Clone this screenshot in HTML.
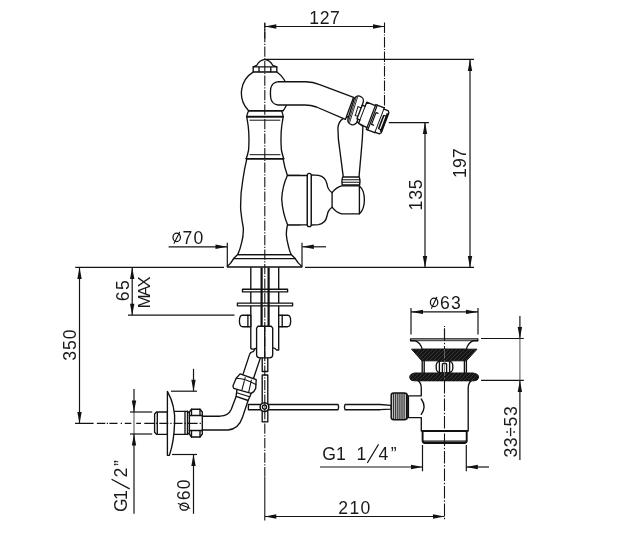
<!DOCTYPE html>
<html>
<head>
<meta charset="utf-8">
<style>
html,body{margin:0;padding:0;background:#fff;}
body{width:617px;height:560px;overflow:hidden;}
svg{display:block;filter:grayscale(1);}
text{font-family:"Liberation Sans",sans-serif;fill:#1a1a1a;}
.o{fill:none;stroke:#111;stroke-width:1.35;stroke-linecap:round;stroke-linejoin:round;}
.w{fill:#fff;stroke:#111;stroke-width:1.35;stroke-linecap:round;stroke-linejoin:round;}
.d{fill:none;stroke:#141414;stroke-width:1.2;}
.c{fill:none;stroke:#141414;stroke-width:1.1;stroke-dasharray:10.4 1.5 1.1 1.5;}
.a{fill:#111;stroke:none;}
.k{fill:#151515;stroke:#111;stroke-width:1;stroke-linejoin:round;}
</style>
</head>
<body>
<svg width="617" height="560" viewBox="0 0 617 560">
<rect x="0" y="0" width="617" height="560" fill="#ffffff"/>

<!-- ===== DIMENSION / EXTENSION LINES ===== -->
<g id="dims">
<!-- main centerline -->
<!-- spout centerline -->
<line class="c" x1="384.5" y1="22.5" x2="384.5" y2="109"/>
<!-- 127 -->
<line class="d" x1="264.8" y1="26.5" x2="384.5" y2="26.5"/>
<polygon class="a" points="264.8,26.5 276.3,24.3 276.3,28.7"/>
<polygon class="a" points="384.5,26.5 373,24.3 373,28.7"/>
<!-- top line -->
<line class="d" x1="264.8" y1="59.4" x2="474" y2="59.4"/>
<!-- 197 -->
<line class="d" x1="470" y1="59.4" x2="470" y2="267.4"/>
<polygon class="a" points="470,59.4 467.8,71 472.2,71"/>
<polygon class="a" points="470,267.4 467.8,255.9 472.2,255.9"/>
<!-- 135 -->
<line class="d" x1="388.8" y1="122.6" x2="428.9" y2="122.6"/>
<line class="d" x1="425" y1="122.6" x2="425" y2="267.4"/>
<polygon class="a" points="425,122.6 422.8,134.1 427.2,134.1"/>
<polygon class="a" points="425,267.4 422.8,255.9 427.2,255.9"/>
<!-- base line -->
<line class="d" x1="75.2" y1="267.4" x2="224" y2="267.4"/>
<line class="d" x1="305" y1="267.4" x2="474" y2="267.4"/>
<!-- ø70 -->
<line class="d" x1="168.6" y1="246.8" x2="227" y2="246.8"/>
<polygon class="a" points="227,246.8 215.5,244.6 215.5,249"/>
<line class="d" x1="227.3" y1="242.8" x2="227.3" y2="266.5"/>
<line class="d" x1="302" y1="242.8" x2="302" y2="266.5"/>
<line class="d" x1="302.3" y1="246.8" x2="326" y2="246.8"/>
<polygon class="a" points="302.3,246.8 313.8,244.6 313.8,249"/>
<!-- 350 -->
<line class="d" x1="79.5" y1="267.4" x2="79.5" y2="423.4"/>
<polygon class="a" points="79.5,267.4 77.3,278.9 81.7,278.9"/>
<polygon class="a" points="79.5,423.4 77.3,411.9 81.7,411.9"/>
<!-- 65 max -->
<line class="d" x1="132.2" y1="267.4" x2="132.2" y2="315.2"/>
<polygon class="a" points="132.2,267.4 130,278.9 134.4,278.9"/>
<polygon class="a" points="132.2,315.2 130,303.7 134.4,303.7"/>
<line class="d" x1="128" y1="315.2" x2="234.5" y2="315.2"/>
<!-- inlet centerline -->
<line class="c" x1="75" y1="423.4" x2="202" y2="423.4" style="stroke-dasharray:18.6 3.3 8.4 1.5 1.2 1.4 8.1 3.2 1.3 2.8 6.5 4.9 4.8 3.3 9.7 2 1.3 2 9 2 1.3 2 9 2 1.3 2 9 2"/>
<!-- G1/2 -->
<line class="d" x1="134" y1="389" x2="134" y2="412"/>
<line class="d" x1="134" y1="412" x2="134" y2="434" style="stroke:#6a6a6a"/>
<line class="d" x1="134" y1="434" x2="134" y2="513.8"/>
<polygon class="a" points="134,412 131.8,400.5 136.2,400.5"/>
<polygon class="a" points="134,434 131.8,445.5 136.2,445.5"/>
<line class="d" x1="130" y1="412" x2="152.2" y2="412"/>
<line class="d" x1="130" y1="434" x2="152.2" y2="434"/>
<!-- ø60 -->
<line class="d" x1="193.5" y1="368.8" x2="193.5" y2="391.2"/>
<polygon class="a" points="193.5,391.2 191.3,379.7 195.7,379.7"/>
<line class="d" x1="171" y1="391.2" x2="197" y2="391.2"/>
<line class="d" x1="172" y1="454.5" x2="197" y2="454.5"/>
<line class="d" x1="193.5" y1="454.5" x2="193.5" y2="513.8"/>
<polygon class="a" points="193.5,454.5 191.3,466 195.7,466"/>
<!-- 210 -->
<line class="d" x1="264.8" y1="516.5" x2="444.5" y2="516.5"/>
<polygon class="a" points="264.8,516.5 276.3,514.3 276.3,518.7"/>
<polygon class="a" points="444.5,516.5 433,514.3 433,518.7"/>
<!-- drain centerline -->
<line class="c" x1="444.5" y1="326" x2="444.5" y2="520.5" style="stroke-dasharray:12.5 1.8 1.4 1.8;stroke-dashoffset:15"/>
<!-- G1 1/4 -->
<line class="d" x1="320" y1="467" x2="422.5" y2="467"/>
<polygon class="a" points="422.5,467 411,464.8 411,469.2"/>
<line class="d" x1="466.3" y1="467" x2="489" y2="467"/>
<polygon class="a" points="466.3,467 477.8,464.8 477.8,469.2"/>
<line class="d" x1="422.5" y1="445" x2="422.5" y2="471.3"/>
<line class="d" x1="466.3" y1="445" x2="466.3" y2="471.3"/>
<!-- ø63 -->
<line class="d" x1="411" y1="311.9" x2="478" y2="311.9"/>
<polygon class="a" points="411,311.9 423,309.7 423,314.1"/>
<polygon class="a" points="478,311.9 466,309.7 466,314.1"/>
<line class="d" x1="411" y1="308" x2="411" y2="334.5"/>
<line class="d" x1="478" y1="308" x2="478" y2="334.5"/>
<!-- 33÷53 -->
<line class="d" x1="481" y1="338.5" x2="523.8" y2="338.5"/>
<line class="d" x1="481" y1="380.4" x2="523.8" y2="380.4"/>
<line class="d" x1="519.9" y1="316" x2="519.9" y2="338.5"/>
<line class="d" x1="519.9" y1="338.5" x2="519.9" y2="380.4" style="stroke:#6a6a6a"/>
<line class="d" x1="519.9" y1="380.4" x2="519.9" y2="460"/>
<polygon class="a" points="519.9,338.5 517.7,327 522.1,327"/>
<polygon class="a" points="519.9,380.4 517.7,391.9 522.1,391.9"/>
</g>

<!-- ===== TEXT ===== -->
<g id="txt" font-size="17.6">
<text id="t127" x="309.3" y="23.5" textLength="30.6" lengthAdjust="spacing">127</text>
<g id="o70"><ellipse class="o" cx="176.7" cy="237.4" rx="3.7" ry="4.2" style="stroke-width:1.25"/><line class="o" x1="174.1" y1="243.2" x2="179.6" y2="232.2" style="stroke-width:1.1"/></g>
<text id="t70" x="182.5" y="244" textLength="20.8" lengthAdjust="spacing">70</text>
<g id="o63"><ellipse class="o" cx="434.1" cy="302.4" rx="3.7" ry="4.2" style="stroke-width:1.25"/><line class="o" x1="431.5" y1="308.3" x2="436.8" y2="297.3" style="stroke-width:1.1"/></g>
<text id="t63" x="439.9" y="309.3" textLength="20.8" lengthAdjust="spacing">63</text>
<text id="t210" x="338.3" y="513.7" textLength="32" lengthAdjust="spacing">210</text>
<text id="tg14a" x="322.3" y="459.6">G1</text>
<text id="tg14b" x="356.6" y="459.6">1</text>
<line class="o" x1="367.6" y1="462.5" x2="378.3" y2="444.7" style="stroke-width:1.25"/>
<text id="tg14c" x="378.6" y="459.6">4</text>
<text id="tg14d" x="390.8" y="459.6">”</text>
<text id="t197" transform="translate(466.2,178) rotate(-90)" textLength="29.6" lengthAdjust="spacing">197</text>
<text id="t135" transform="translate(421.8,210.4) rotate(-90)" textLength="31" lengthAdjust="spacing">135</text>
<text id="t350" transform="translate(75.9,360.8) rotate(-90)" textLength="31.4" lengthAdjust="spacing">350</text>
<text id="t65" transform="translate(128.8,301.3) rotate(-90)" textLength="21" lengthAdjust="spacing">65</text>
<text id="tmax" transform="translate(150,308.2) rotate(-90)" font-size="16.6" textLength="31.8" lengthAdjust="spacing">MAX</text>
<text id="tg12a" transform="translate(126.9,512) rotate(-90)">G</text>
<text id="tg12b" transform="translate(126.9,500) rotate(-90)">1</text>
<line class="o" x1="129.2" y1="488.6" x2="112" y2="479.5" style="stroke-width:1.25"/>
<text id="tg12c" transform="translate(126.9,477.6) rotate(-90)">2</text>
<text id="tg12d" transform="translate(126.9,466) rotate(-90)">”</text>
<g id="o60"><ellipse class="o" cx="184.2" cy="506.7" rx="4.2" ry="3.5" style="stroke-width:1.25"/><line class="o" x1="178.2" y1="503.6" x2="189.8" y2="508.3" style="stroke-width:1.1"/></g>
<text id="t60" transform="translate(189.9,500.2) rotate(-90)" textLength="20.7" lengthAdjust="spacing">60</text>
<text id="t3353" transform="translate(517,457.5) rotate(-90)" textLength="51.2" lengthAdjust="spacing">33÷53</text>
</g>

<!-- ===== FAUCET ===== -->
<g id="faucet">
<!-- shank below deck -->
<path class="o" d="M250.8 267.4 V348.2 q1.4 1.6 3.6 0.6 q1.6 -0.6 2.4 0.2 M278.7 267.4 V350 H276.5 q-1 -2.2 -3.6 -2.2"/>
<!-- washers -->
<rect class="w" x="242.5" y="289.2" width="45.1" height="2.7"/>
<rect class="w" x="237.4" y="303.1" width="55.2" height="2.7"/>
<path class="o" d="M261.6 267.4 V326 M268.6 267.4 V326" style="stroke-width:2.2;stroke-linecap:butt"/>
<!-- side nuts -->
<path class="w" d="M250.8 315.2 H242.3 q-2.8 0.4 -2.9 5.7 q0.1 5.4 2.9 5.8 H250.8 Z"/>
<line class="o" x1="247.9" y1="315.2" x2="247.9" y2="326.7"/>
<path class="w" d="M278.7 315.2 H287.8 q2.8 0.4 2.9 5.7 q-0.1 5.4 -2.9 5.8 H278.7 Z"/>
<line class="o" x1="282.2" y1="315.2" x2="282.2" y2="326.7"/>
<!-- hex connector -->
<path class="w" d="M256.6 328.2 l1.5 -2 H271.2 l1.5 2 V354.6 q0 3.2 -3.2 3.2 H259.8 q-3.2 0 -3.2 -3.2 Z"/>
<line class="o" x1="264.7" y1="326.2" x2="264.7" y2="357.8"/>
<!-- rod below connector -->
<path class="o" d="M262.2 357.8 V371.5 H267.8 V357.8"/>
<rect class="w" x="262.2" y="375" width="5.6" height="46.9"/>
<!-- horizontal rod -->
<path class="w" d="M338 404.5 H248.4 V409.7 H338 q1.2 -2.6 0 -5.2 Z"/>
<path class="w" d="M391.2 405.4 L380 404.5 H345 q-1.2 2.6 0 5.2 H380 L391.2 409.2 Z"/>
<circle class="w" cx="264.5" cy="407.1" r="4.4" style="stroke-width:1.5"/>
<circle class="o" cx="264.5" cy="407.1" r="2.1"/>

<!-- hose from connector -->
<path class="o" d="M254.6 349.6 q-0.6 2.4 -3.4 2.8 q-1.2 0.6 -1.6 2 L243 374.4 M260.2 358.4 L253.4 378.8"/>
<!-- hose nut -->
<path class="w" d="M240.1 373.9 L256.2 379.6 L255.7 388.4 L253.8 391.6 L251.2 393.4 L248.1 400.5 L236.1 396.4 L237 389.4 L233.7 388.4 L232.9 386 L236.2 378.2 Z"/>
<path class="o" d="M236.2 378.2 Q246 378.5 255.9 384.6 M237 389.4 L251.2 393.4 M236.5 392.8 L249.8 396.8 M245.2 377.6 L241.8 390.6 M251.4 380 L248.6 392.6" style="stroke-width:1.1"/>
<!-- pipe bend -->
<path class="o" d="M236.1 396.4 L231.3 409.3 Q228.6 415.8 220 416.2 H202.3 M248.1 400.5 L242.5 417.3 Q238.6 429.2 228 430 H202.3"/>
<!-- inlet nut -->
<path class="w" d="M191.5 409.2 H200 L202.3 412 V434 L200 437 H191.5 L189.4 434 V412 Z"/>
<path class="o" d="M189.4 415.5 H202.3 M189.4 430.5 H202.3 M191.5 409.2 V415.5 M200 409.2 V415.5 M191.5 430.5 V437 M200 430.5 V437"/>
<!-- inlet body -->
<rect class="w" x="173.5" y="411.3" width="14" height="23"/>
<line class="o" x1="187.5" y1="411.3" x2="189.4" y2="413"/>
<line class="o" x1="187.5" y1="434.3" x2="189.4" y2="433"/>
<line class="o" x1="185" y1="411.3" x2="185" y2="434.3"/>
<!-- threaded stub -->
<path class="w" d="M167.5 412 H156.5 L154.6 414 V432.3 L156.5 434.3 H167.5 Z"/>
<line class="o" x1="157.3" y1="412.6" x2="157.3" y2="433.7"/>
<!-- escutcheon -->
<path class="w" d="M167.4 391.4 Q175.6 406 174.6 423 Q174 442 169.4 455.3 L167.4 455.3 Z"/>
<line class="c" x1="154" y1="423.4" x2="202" y2="423.4" style="stroke-dasharray:9.7 2 1.3 2 9 2 1.3 2 9 2 1.3 2;stroke-dashoffset:9.7"/>

<!-- base -->
<path class="w" d="M237.7 254.6 H291.2 L295.2 258.6 Q298 263.5 301.8 266.3 V267 H227.4 V266.3 Q231 263.5 233.6 258.6 Z"/>
<line class="o" x1="233.6" y1="258.6" x2="295.2" y2="258.6"/>
<!-- body -->
<path class="w" d="M246.9 158.3 Q244.4 169 242.8 180 Q240.2 195 240.7 210 Q241.6 219 243.3 227.8 Q243.6 236 241.7 242.4 Q240.3 249 237.7 254.6 H291.2 Q289.6 251 288.7 247.3 Q286.6 240 286.3 234.3 Q286.3 229 287.6 224.8 L300 224.8 L300 175.5 L287.4 175.5 Q284.4 167 283 158.3 Z"/>
<!-- valve body -->
<path class="w" d="M287.4 175.5 H307.5 V224.8 H287.6 Q282.6 213 281.7 199 Q282.4 186 287.4 175.5 Z"/>
<!-- valve dome + knob -->
<path class="w" d="M311.2 174.9 L318.5 175.3 Q325.6 176.6 327 184 Q327.8 190 332.1 192.6 Q336 187.5 341.6 185.9 H359.4 Q364.4 190 364.4 199.8 Q364.4 209.5 359.4 213.8 H341.6 Q336 212.5 332.1 207.2 Q327.8 210 327 216 Q325.6 223.4 318.5 224.6 L311.2 225 Z"/>
<path class="o" d="M332.1 192.6 V207.2 M359.4 185.9 V213.8"/>
<!-- flange -->
<rect class="w" x="307.3" y="173.3" width="3.9" height="53.3" rx="1.9"/>
<!-- neck -->
<path class="w" d="M246.7 116.6 Q247.4 121 248.2 126 Q249.5 137 248.6 150 Q247.6 155 246.2 158.7 H283.7 Q282.4 155 281.4 150 Q280.4 137 281.7 126 Q282.5 121 283.2 116.6 Z"/>
<path class="o" d="M249.9 120.2 H279.9 M250 154.7 H280" style="stroke-width:1"/>
<!-- rings -->
<path class="w" d="M248.6 110.7 H281.6 Q282.8 113.5 283.2 116.6 H246.7 Q247.2 113.5 248.6 110.7 Z"/>
<line class="o" x1="246.7" y1="116.6" x2="283.2" y2="116.6" style="stroke-width:1.6"/>
<line class="o" x1="246.2" y1="158.7" x2="283.7" y2="158.7" style="stroke-width:1.6"/>
<!-- ball -->
<path class="w" d="M253.4 71.8 A25 25 0 0 0 248.6 110.7 H283.3 A28 28 0 0 0 276.6 71.8 Z"/>
<!-- cap -->
<path class="w" d="M253.2 71.8 V66.8 L256.6 65.5 Q259.4 60.3 264.7 59.4 Q270 60.3 272.7 65.3 L276.8 66.8 V71.8 Z"/>
<path class="o" d="M253.2 66.8 H276.8 M259 66.8 V71.8 M270.8 66.8 V71.8"/>

<!-- lever -->
<path class="w" d="M343.2 118.4 Q338.4 121.8 337.9 128 Q338 140 339.8 150 L343.3 177.1 H359 L361.4 150 Q362.6 138 362.9 126.5 L350 116 Z"/>
<path class="w" d="M342.6 177.1 H359.4 Q360.4 181 359.6 185 H342.2 Q341.4 181 342.6 177.1 Z"/>
<path class="o" d="M341.9 179.7 H360 M341.9 182.2 H360" style="stroke-width:1.1"/>
<!-- spout -->
<path class="w" d="M278.5 81.7 H306 Q313 81.7 319 84.4 L353.6 97.3 L345.4 119.4 L316.5 107 Q311 105 305 105 H278 Q271.8 104 270.7 98 Q270.1 93 270.7 88.4 Q272 82.4 278.5 81.7 Z"/>
<!-- ring on spout -->
<g transform="translate(355.6,110.4) rotate(17.2)">
<rect class="w" x="-4.8" y="-14.8" width="9.6" height="29.6" rx="4.6"/>
<path class="o" d="M-3.4 -12.6 V12.6 M-2.1 -13.8 V13.8" style="stroke-width:0.8"/>
<path class="o" d="M1.2 -4.2 H4.4 M1.2 5 H4.4 M1.2 -4.2 V5" style="stroke-width:0.9"/>
</g>
<!-- aerator -->
<g transform="translate(366.75,102.2) rotate(21)">
<path class="w" d="M-3.2 4.4 H0 V0 H9.3 V-1 H18.4 V0.3 H23 L24.5 2 V23.3 L23 25 H18.4 V25.6 H9.3 V23.6 L0 22.6 V19 H-3.2 Z"/>
<path class="o" d="M0 4.4 V19 M18.4 0.3 V25" style="stroke-width:1"/>
<path class="o" d="M9.3 0 V23.6 M10.9 -1 V25.6" style="stroke-width:1.2"/>
<path class="o" d="M14.6 6.4 H12.4 V19 H14.6" style="stroke-width:1.2"/>
<path d="M23.6 3 V22.6" stroke="#111" stroke-width="2.1" fill="none"/>
<path d="M20.6 6 V20.6" stroke="#111" stroke-width="1.7" fill="none"/>
<path class="o" d="M20.6 6 H23.4 M20.6 20.6 H23.4" style="stroke-width:1"/>
</g>
</g>
<line class="c" x1="264.8" y1="22.8" x2="264.8" y2="476" style="stroke-dashoffset:5.4"/>
<path class="d" d="M264.8 22.8 V38.6 M264.8 476.3 V520.6" style="stroke-width:1.1"/>
<!-- ===== DRAIN ===== -->
<g id="drain">
<!-- body -->
<path class="w" d="M417.8 380.4 Q421.3 383 421.3 388 V395.8 H408.4 V417.6 H421.3 V431 H468.2 V388 Q468.2 383 471.6 380.4 Z"/>
<path class="o" d="M421.3 399 Q426.8 406.7 421.3 414.4"/>
<!-- lower ring -->
<path class="w" d="M422.6 431 H466.7 V440.6 Q466.7 443 464.3 443 H425 Q422.6 443 422.6 440.6 Z" style="stroke-width:1.9"/>
<line class="o" x1="422.6" y1="441.2" x2="466.7" y2="441.2" style="stroke-width:1.3"/>
<!-- knurled nut -->
<rect class="w" x="391.2" y="393.1" width="15.7" height="26.6" rx="2.4" style="fill:#c4c4c4;stroke-width:1.5"/>
<path class="o" d="M393.6 393.8 V419 M395.7 393.3 V419.5 M397.8 393.3 V419.5 M399.9 393.3 V419.5 M402 393.3 V419.5 M404.1 393.3 V419.5" style="stroke-width:0.9"/>
<line class="o" x1="406.9" y1="394.4" x2="406.9" y2="418.6" style="stroke-width:1.8"/>
<!-- between gaskets -->
<path class="o" d="M422.2 360.6 V373 M466.4 360.6 V373 M424.2 360.6 V373 M464.4 360.6 V373"/>
<rect class="w" x="436.2" y="361" width="16.6" height="11.8" rx="4.5"/>
<path class="o" d="M439.4 362 V372 M449.6 362 V372 M442.4 364 V372.6 M446.6 364 V372.6 M442.4 364 Q444.5 362.6 446.6 364"/>
<!-- cap -->
<path class="w" d="M410.6 338.8 H477.8 V340.7 H473.6 Q468 342.6 466.4 349.4 H422.2 Q420.6 342.6 414.8 340.7 H410.6 Z"/>
<line class="o" x1="410.6" y1="340.7" x2="477.8" y2="340.7" style="stroke-width:0.9"/>
<!-- gaskets -->
<defs>
<clipPath id="g1"><path d="M411.6 349.2 H477 L466.4 360.8 H421.9 Z"/></clipPath>
<clipPath id="g2"><path d="M414.6 373 H473 Q479.6 374 478.4 378 Q477.6 380.8 474 380.8 H414 Q410.4 380.8 409.8 378 Q409 374 414.6 373 Z"/></clipPath>
</defs>
<path class="k" d="M411.6 349.2 H477 L466.4 360.8 H421.9 Z"/>
<g clip-path="url(#g1)" stroke="#4a4a4a" stroke-width="0.6">
<path d="M408 362 l13 -13 M412 362 l13 -13 M416 362 l13 -13 M420 362 l13 -13 M424 362 l13 -13 M428 362 l13 -13 M432 362 l13 -13 M436 362 l13 -13 M440 362 l13 -13 M444 362 l13 -13 M448 362 l13 -13 M452 362 l13 -13 M456 362 l13 -13 M460 362 l13 -13 M464 362 l13 -13" fill="none"/>
</g>
<path class="k" d="M414.6 373 H473 Q479.6 374 478.4 378 Q477.6 380.8 474 380.8 H414 Q410.4 380.8 409.8 378 Q409 374 414.6 373 Z"/>
<g clip-path="url(#g2)" stroke="#4a4a4a" stroke-width="0.6">
<path d="M406 382 l10 -10 M410 382 l10 -10 M414 382 l10 -10 M418 382 l10 -10 M422 382 l10 -10 M426 382 l10 -10 M430 382 l10 -10 M434 382 l10 -10 M438 382 l10 -10 M442 382 l10 -10 M446 382 l10 -10 M450 382 l10 -10 M454 382 l10 -10 M458 382 l10 -10 M462 382 l10 -10 M466 382 l10 -10 M470 382 l10 -10" fill="none"/>
</g>
<line class="c" x1="444.5" y1="326" x2="444.5" y2="349" style="stroke-dasharray:12.5 1.8 1.4 1.8;stroke-dashoffset:15"/>
<line x1="444.5" y1="349" x2="444.5" y2="381" stroke="#777" stroke-width="0.8" stroke-dasharray="12.5 1.8 1.4 1.8" stroke-dashoffset="3"/>
<line class="c" x1="444.5" y1="381" x2="444.5" y2="445" style="stroke-dasharray:12.5 1.8 1.4 1.8"/>
</g>
</svg>
</body>
</html>
